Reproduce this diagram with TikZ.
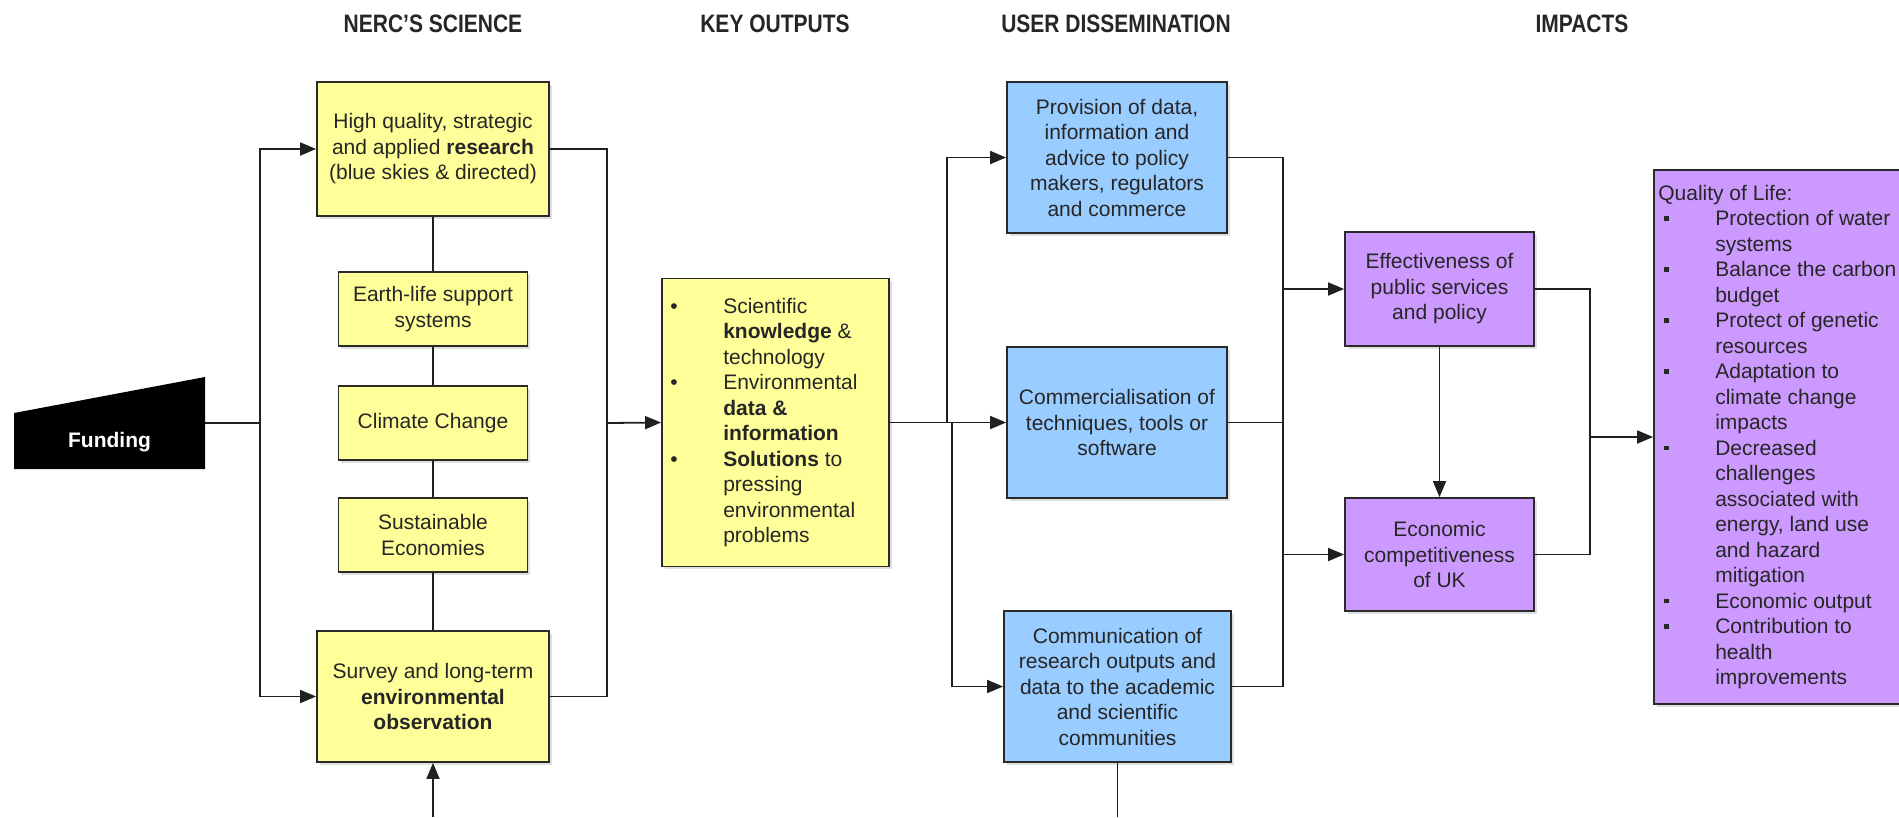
\documentclass[tikz,border=0pt]{standalone}
\usepackage{fontspec}
\setmainfont{Liberation Sans}
\usetikzlibrary{arrows.meta,shadows}
\definecolor{ylw}{HTML}{FFFF99}
\definecolor{blu}{HTML}{99CCFF}
\definecolor{pur}{HTML}{CC99FF}
\definecolor{edgec}{HTML}{2A2A2A}
\definecolor{wirec}{HTML}{202020}
\newcommand\kbul{\llap{\makebox[53pt][l]{\fontsize{21}{21}\selectfont•}}}
\newcommand\qbul{\makebox[57pt][l]{\hspace{6pt}\raisebox{5pt}{\rule{4.5pt}{4.5pt}}}}
\newcommand\qind{\makebox[57pt]{}}
\begin{document}
\begin{tikzpicture}[x=1pt,y=-1pt,
  boxc/.style={draw=edgec, line width=1.8pt, align=center, inner sep=0pt,
    font=\fontsize{21}{25.5}\selectfont, text=black!85,
    drop shadow={shadow xshift=2.5pt, shadow yshift=-2.5pt, opacity=0.25}},
  txt/.style={inner sep=0pt, align=left, font=\fontsize{21}{25.5}\selectfont, text=black!85},
  hdr/.style={inner sep=0pt, font=\bfseries\fontsize{21}{21}\selectfont, text=black!85},
  wire/.style={draw=wirec, line width=1.8pt},
  arr/.style={-{Triangle[length=16pt,width=13pt]}}]
\useasboundingbox (0,0) rectangle (1899,817);
\fill[white] (0,0) rectangle (1899,817);
\begin{scope}
\clip (0,0) rectangle (1899,817);

% headers
\node[hdr] (h1) at (433,24) {\scalebox{1}[1.2]{NERC'S SCIENCE}};
\node[hdr] (h2) at (775,24) {\scalebox{1}[1.2]{KEY OUTPUTS}};
\node[hdr] (h3) at (1116,24) {\scalebox{1}[1.2]{USER DISSEMINATION}};
\node[hdr] (h4) at (1582,24) {\scalebox{1}[1.2]{IMPACTS}};

% funding
\fill[black] (14,413) -- (205,377) -- (205,469) -- (14,469) -- cycle;
\node[inner sep=0pt, minimum width=191pt, minimum height=92pt, text=white,
  font=\bfseries\fontsize{21}{21}\selectfont] (fund) at (109.5,423) {\raisebox{-24.5pt}[0pt][0pt]{Funding}};

% NERC science column
\node[boxc, fill=ylw, minimum width=232pt, minimum height=134pt] (res) at (433,149)
  {High quality, strategic\\and applied \textbf{research}\\(blue skies \& directed)};
\node[boxc, fill=ylw, minimum width=189pt, minimum height=74pt] (earth) at (433,309)
  {Earth-life support\\systems};
\node[boxc, fill=ylw, minimum width=189pt, minimum height=74pt] (clim) at (433,423)
  {Climate Change};
\node[boxc, fill=ylw, minimum width=189pt, minimum height=74pt] (sust) at (433,535)
  {Sustainable\\Economies};
\node[boxc, fill=ylw, minimum width=232pt, minimum height=131pt] (surv) at (433,696.5)
  {Survey and long-term\\\textbf{environmental}\\\textbf{observation}};

% key outputs
\node[boxc, fill=ylw, minimum width=227pt, minimum height=288pt] (key) at (775.5,422.5) {};
\node[txt, anchor=west] (keytxt) at ([xshift=62pt]key.west)
  {\kbul Scientific\\\textbf{knowledge} \&\\technology\\\kbul Environmental\\\textbf{data \&}\\\textbf{information}\\\kbul\textbf{Solutions} to\\pressing\\environmental\\problems};

% user dissemination
\node[boxc, fill=blu, minimum width=220pt, minimum height=151pt] (prov) at (1117,157.5)
  {Provision of data,\\information and\\advice to policy\\makers, regulators\\and commerce};
\node[boxc, fill=blu, minimum width=220pt, minimum height=151pt] (comm) at (1117,422.5)
  {Commercialisation of\\techniques, tools or\\software};
\node[boxc, fill=blu, minimum width=227pt, minimum height=151pt] (cmu) at (1117.5,686.5)
  {Communication of\\research outputs and\\data to the academic\\and scientific\\communities};

% impacts
\node[boxc, fill=pur, minimum width=189pt, minimum height=114pt] (eff) at (1439.5,289)
  {Effectiveness of\\public services\\and policy};
\node[boxc, fill=pur, minimum width=189pt, minimum height=113pt] (eco) at (1439.5,554.5)
  {Economic\\competitiveness\\of UK};
\node[boxc, fill=pur, minimum width=276pt, minimum height=534pt] (qol) at (1792,437) {};
\node[txt, anchor=west] (qoltxt) at ([xshift=5pt]qol.west)
  {Quality of Life:\\\qbul Protection of water\\\qind systems\\\qbul Balance the carbon\\\qind budget\\\qbul Protect of genetic\\\qind resources\\\qbul Adaptation to\\\qind climate change\\\qind impacts\\\qbul Decreased\\\qind challenges\\\qind associated with\\\qind energy, land use\\\qind and hazard\\\qind mitigation\\\qbul Economic output\\\qbul Contribution to\\\qind health\\\qind improvements};

% junction points
\coordinate (jL) at (260,423);
\coordinate (jR) at (607,423);
\coordinate (jK1) at (947,422.5);
\coordinate (jK2) at (952,422.5);
\coordinate (jV1) at (1283,289);
\coordinate (jV2) at (1283,554.5);
\coordinate (jQ) at (1590,437);
\coordinate (bot) at (433,817);

% connectors: funding to science
\draw[wire] (fund.east) -- (jL);
\draw[wire,arr] (jL) |- (res.west);
\draw[wire,arr] (jL) |- (surv.west);
\draw[wire] (res.south) -- (earth.north);
\draw[wire] (earth.south) -- (clim.north);
\draw[wire] (clim.south) -- (sust.north);
\draw[wire] (sust.south) -- (surv.north);
\draw[wire,arr] (bot) -- (surv.south);

% science to key outputs
\draw[wire] (res.east) -| (jR);
\draw[wire] (surv.east) -| (jR);
\draw[wire,arr] (jR) -- (key.west);

% key outputs to dissemination
\draw[wire,arr] (key.east) -- (comm.west);
\draw[wire,arr] (jK1) |- (prov.west);
\draw[wire,arr] (jK2) |- (cmu.west);
\draw[wire] (cmu.south) -- (cmu.south |- bot);

% dissemination to impacts
\draw[wire] (prov.east) -| (jV1) -- (jV2) |- (cmu.east);
\draw[wire] (comm.east) -- (comm.east -| jV1);
\draw[wire,arr] (jV1) -- (eff.west);
\draw[wire,arr] (jV2) -- (eco.west);
\draw[wire,arr] (eff.south) -- (eco.north);
\draw[wire] (eff.east) -| (jQ);
\draw[wire] (eco.east) -| (jQ);
\draw[wire,arr] (jQ) -- (qol.west);
\end{scope}
\end{tikzpicture}
\end{document}
